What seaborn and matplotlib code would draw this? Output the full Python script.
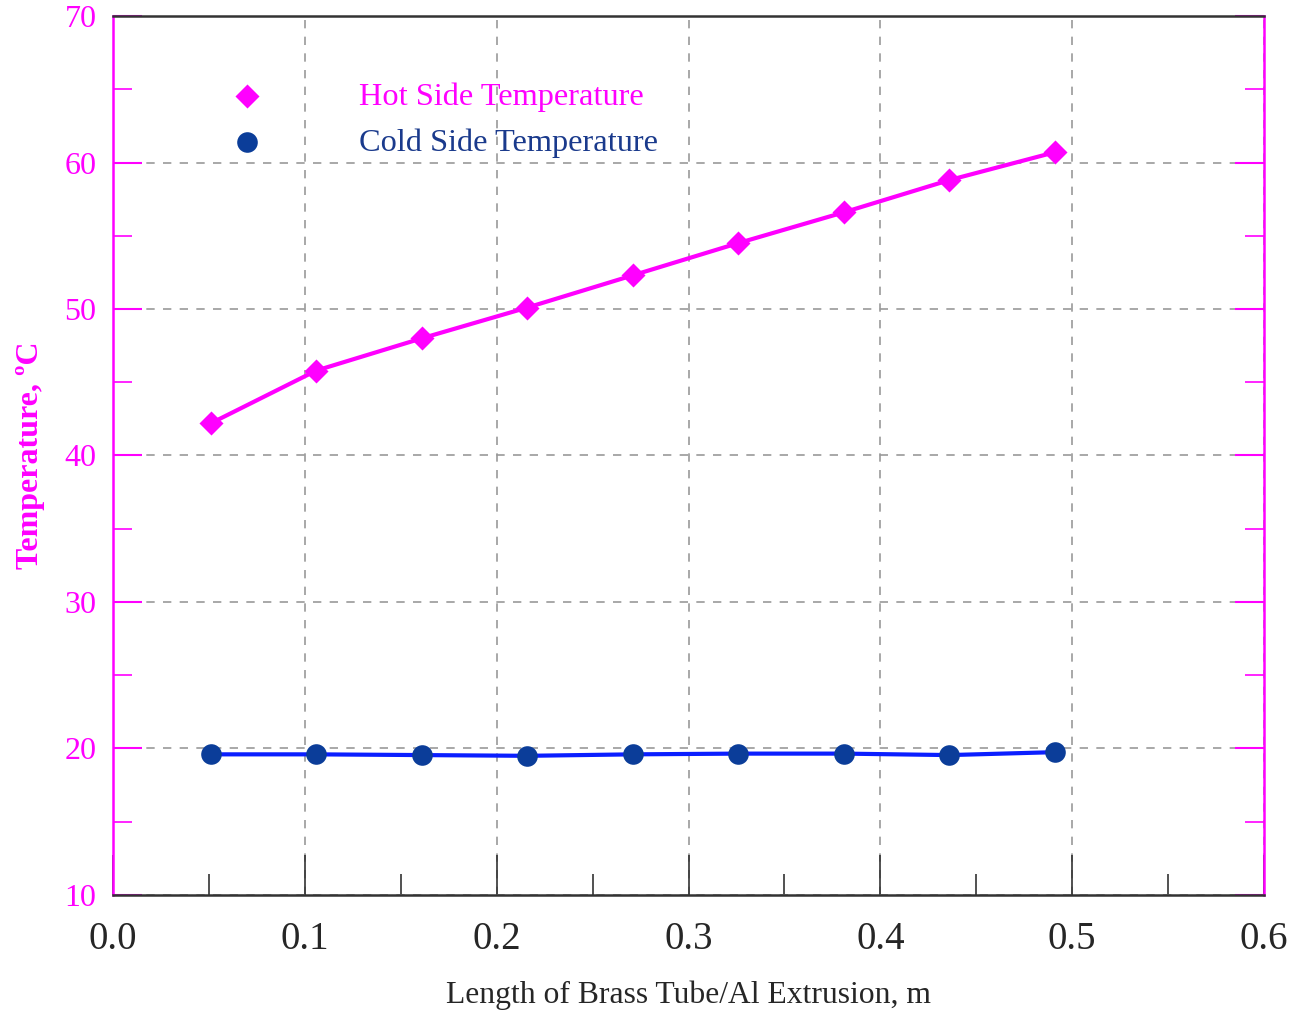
import numpy as np
import pandas as pd
import matplotlib
matplotlib.use("Agg")
import matplotlib.pyplot as plt
import seaborn as sns

# values
length_m = [0.051, 0.106, 0.161, 0.216, 0.271, 0.326, 0.381, 0.436, 0.491]
hot_temp = [42.2, 45.8, 48.0, 50.1, 52.3, 54.5, 56.6, 58.8, 60.7]
cold_temp = [19.6, 19.6, 19.55, 19.5, 19.6, 19.65, 19.65, 19.55, 19.75]

x_ticks = [0.0, 0.1, 0.2, 0.3, 0.4, 0.5, 0.6]
y_ticks = [10, 20, 30, 40, 50, 60, 70]

hot_line = '#ff00ff'
cold_line = '#0a1eff'
cold_mark = '#0b3d99'
cold_text = '#1a3a8c'

sns.set_theme(style='white')
plt.rcParams['font.family'] = ['Liberation Serif', 'DejaVu Serif']

df = pd.DataFrame({'x': length_m, 'hot': hot_temp, 'cold': cold_temp})

fig = plt.figure(figsize=(12.92, 10.13), dpi=100)
ax = fig.add_axes([0.0875, 0.1165, 0.8908, 0.8677])

sns.lineplot(data=df, x='x', y='hot', color=hot_line, lw=3, ax=ax, zorder=3)
sns.lineplot(data=df, x='x', y='cold', color=cold_line, lw=3, ax=ax, zorder=3)
sns.scatterplot(data=df, x='x', y='hot', marker='D', s=150, color=hot_line,
                edgecolor=hot_line, linewidth=0, ax=ax, zorder=4,
                label='Hot Side Temperature')
sns.scatterplot(data=df, x='x', y='cold', marker='o', s=220, color=cold_mark,
                edgecolor=cold_mark, linewidth=0, ax=ax, zorder=4,
                label='Cold Side Temperature')

ax.set_xlim(0, 0.6)
ax.set_ylim(10, 70)
ax.set_xticks(x_ticks)
ax.set_xticks(np.arange(0.05, 0.6, 0.1), minor=True)
ax.set_yticks(y_ticks)
ax.set_yticks(np.arange(15, 70, 10), minor=True)
ax.set_xticklabels([f'{v:.1f}' for v in x_ticks])
ax.grid(True, which='major', linestyle=(0, (5, 5)), color='#999999', lw=1.2)

ax.tick_params(axis='x', which='major', direction='in', length=29, width=1.2,
               color='#333333', labelsize=28, pad=19, top=False, bottom=True)
ax.tick_params(axis='x', which='minor', direction='in', length=15, width=1.2,
               color='#333333', top=False, bottom=True)
ax.tick_params(axis='y', which='major', direction='in', length=21, width=1.5,
               color=hot_line, labelcolor=hot_line, labelsize=23, pad=12,
               left=True, right=True)
ax.tick_params(axis='y', which='minor', direction='in', length=14, width=1.2,
               color=hot_line, left=True, right=True)

for side in ['left', 'right']:
    ax.spines[side].set_color(hot_line)
    ax.spines[side].set_linewidth(1.8)
for side in ['top', 'bottom']:
    ax.spines[side].set_color('#333333')
    ax.spines[side].set_linewidth(1.8)

ax.set_xlabel('Length of Brass Tube/Al Extrusion, m', fontsize=22.8, labelpad=16)
ax.set_ylabel('Temperature, ºC', fontsize=23, fontweight='bold', color=hot_line,
              labelpad=14)

leg = ax.legend(loc='upper left', bbox_to_anchor=(0.063, 0.958), frameon=False,
                fontsize=23.3, handletextpad=2.46, labelspacing=0.5, markerscale=1.0)
for t, c in zip(leg.get_texts(), [hot_line, cold_text]):
    t.set_color(c)

fig.savefig('out.png', dpi=100)
